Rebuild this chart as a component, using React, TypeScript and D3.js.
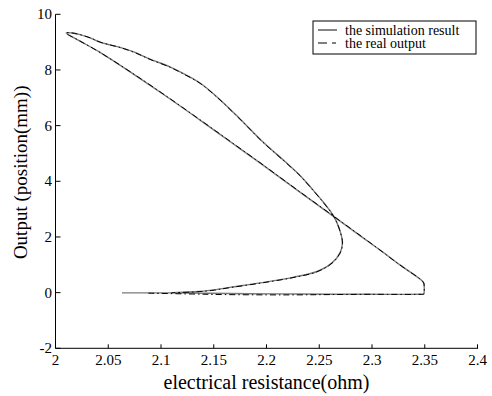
import React from "react";
import * as d3 from "d3";

const xTicks = [2, 2.05, 2.1, 2.15, 2.2, 2.25, 2.3, 2.35, 2.4];
const xTickLabels = ["2", "2.05", "2.1", "2.15", "2.2", "2.25", "2.3", "2.35", "2.4"];
const yTicks = [-2, 0, 2, 4, 6, 8, 10];
const yTickLabels = ["-2", "0", "2", "4", "6", "8", "10"];

// simulation result: bottom branch, right hook, rising branch, upper branch back down
const simX = [
  2.063, 2.1085, 2.1844, 2.2318, 2.2981, 2.3455, 2.349,
  2.3495, 2.3495, 2.349, 2.3455, 2.3265, 2.3076, 2.2886, 2.2668, 2.2412, 2.2223,
  2.1938, 2.1654, 2.137, 2.1066, 2.0735, 2.0422, 2.0232, 2.01,
  2.0156, 2.0232, 2.0327, 2.0422, 2.0517, 2.0611, 2.0754, 2.0896, 2.1085, 2.1227,
  2.137, 2.1531, 2.1749, 2.1967, 2.2175, 2.2318, 2.2431, 2.2545, 2.263, 2.2687,
  2.272, 2.2697, 2.2621, 2.2479, 2.2251, 2.194, 2.1654, 2.1464, 2.13, 2.1085,
];
const simY = [
  -0.01, -0.01, -0.04, -0.05, -0.06, -0.06, -0.05,
  0.06, 0.2, 0.35, 0.49, 0.995, 1.53, 2.05, 2.65, 3.35, 3.87,
  4.66, 5.43, 6.2, 7.01, 7.86, 8.63, 9.04, 9.33,
  9.33, 9.27, 9.15, 9.0, 8.9, 8.81, 8.63, 8.39, 8.11, 7.84,
  7.53, 7.03, 6.24, 5.41, 4.71, 4.21, 3.73, 3.22, 2.79, 2.33,
  1.79, 1.43, 1.07, 0.76, 0.55, 0.35, 0.19, 0.08, 0.03, -0.01,
];

// real output
const realX = [
  2.088, 2.13, 2.16, 2.2, 2.23, 2.26, 2.2981, 2.3455, 2.349,
  2.3495, 2.3495, 2.349, 2.3455, 2.3265, 2.3076, 2.2886, 2.2668, 2.2412, 2.2223,
  2.1938, 2.1654, 2.137, 2.1066, 2.0735, 2.0422, 2.0232, 2.01,
  2.0156, 2.0232, 2.0327, 2.0422, 2.0517, 2.0611, 2.0754, 2.0896, 2.1085, 2.1227,
  2.137, 2.1531, 2.1749, 2.1967, 2.2175, 2.2318, 2.2431, 2.2545, 2.263, 2.2687,
  2.272, 2.2697, 2.2621, 2.2479, 2.2251, 2.194, 2.1654, 2.1464, 2.13, 2.11,
];
const realY = [
  -0.02, -0.05, -0.07, -0.08, -0.08, -0.07, -0.06, -0.06, -0.05,
  0.06, 0.2, 0.35, 0.49, 0.99, 1.53, 2.06, 2.66, 3.36, 3.88,
  4.67, 5.44, 6.21, 7.02, 7.87, 8.63, 9.04, 9.33,
  9.33, 9.27, 9.16, 9.0, 8.9, 8.81, 8.62, 8.38, 8.1, 7.83,
  7.52, 7.02, 6.23, 5.4, 4.7, 4.2, 3.72, 3.21, 2.78, 2.32,
  1.78, 1.42, 1.06, 0.75, 0.54, 0.34, 0.18, 0.07, 0.02, 0.0,
];

const legendLabels = ["the simulation result", "the real output"];

export default function App() {
  const W = 492;
  const H = 396;
  const x = d3.scaleLinear().domain([2, 2.4]).range([55.5, 477.5]);
  const y = d3.scaleLinear().domain([-2, 10]).range([348.3, 14.3]);

  const mk = (xs: number[], ys: number[]) =>
    d3
      .line<[number, number]>()
      .x((d) => x(d[0]))
      .y((d) => y(d[1]))
      .curve(d3.curveCatmullRom.alpha(0.5))(xs.map((v, i) => [v, ys[i]]) as [number, number][]) || "";

  const simPath = mk(simX, simY);
  const realPath = mk(realX, realY);
  const font = "'Liberation Serif', 'Times New Roman', serif";
  const x0 = x(2);
  const x1 = x(2.4);
  const yb = y(-2);
  const yt = y(10);

  return (
    <svg
      width={W}
      height={H}
      style={{ position: "absolute", left: 0, top: 0, background: "#fff" }}
      fontFamily={font}
    >
      <rect x={0} y={0} width={W} height={H} fill="#fff" />
      <path d={simPath} fill="none" stroke="#7a7a7a" strokeWidth={1.4} />
      <path d={realPath} fill="none" stroke="#000" strokeWidth={1} strokeDasharray="6,3,1.5,3" />

      {/* axes */}
      <line x1={x0} y1={yb} x2={x1 + 0.5} y2={yb} stroke="#000" strokeWidth={1} />
      <line x1={x0} y1={yb} x2={x0} y2={yt} stroke="#000" strokeWidth={1} />
      {xTicks.map((t, i) => (
        <g key={"xt" + i}>
          <line x1={x(t)} y1={yb} x2={x(t)} y2={yb - 4} stroke="#000" />
          <text x={x(t)} y={365} fontSize={15} textAnchor="middle">
            {xTickLabels[i]}
          </text>
        </g>
      ))}
      {yTicks.map((t, i) => (
        <g key={"yt" + i}>
          <line x1={x0} y1={y(t)} x2={x0 + 5} y2={y(t)} stroke="#000" />
          <text x={52} y={y(t) + 5} fontSize={15} textAnchor="end">
            {yTickLabels[i]}
          </text>
        </g>
      ))}
      <text x={(x0 + x1) / 2} y={389} fontSize={20} textAnchor="middle">
        electrical resistance(ohm)
      </text>
      <text
        transform={`translate(27,${(yt + yb) / 2 - 9}) rotate(-90)`}
        fontSize={19}
        textAnchor="middle"
      >
        Output (position(mm))
      </text>

      {/* legend */}
      <rect x={313} y={21} width={163} height={33} fill="#fff" stroke="#000" strokeWidth={1} />
      <line x1={318} y1={30} x2={337} y2={30} stroke="#333" strokeWidth={1.2} />
      <line x1={318} y1={43} x2={337} y2={43} stroke="#000" strokeWidth={1.2} strokeDasharray="9,5,4,10" />
      <text x={345} y={34.5} fontSize={14}>
        {legendLabels[0]}
      </text>
      <text x={345} y={48} fontSize={14}>
        {legendLabels[1]}
      </text>
    </svg>
  );
}
